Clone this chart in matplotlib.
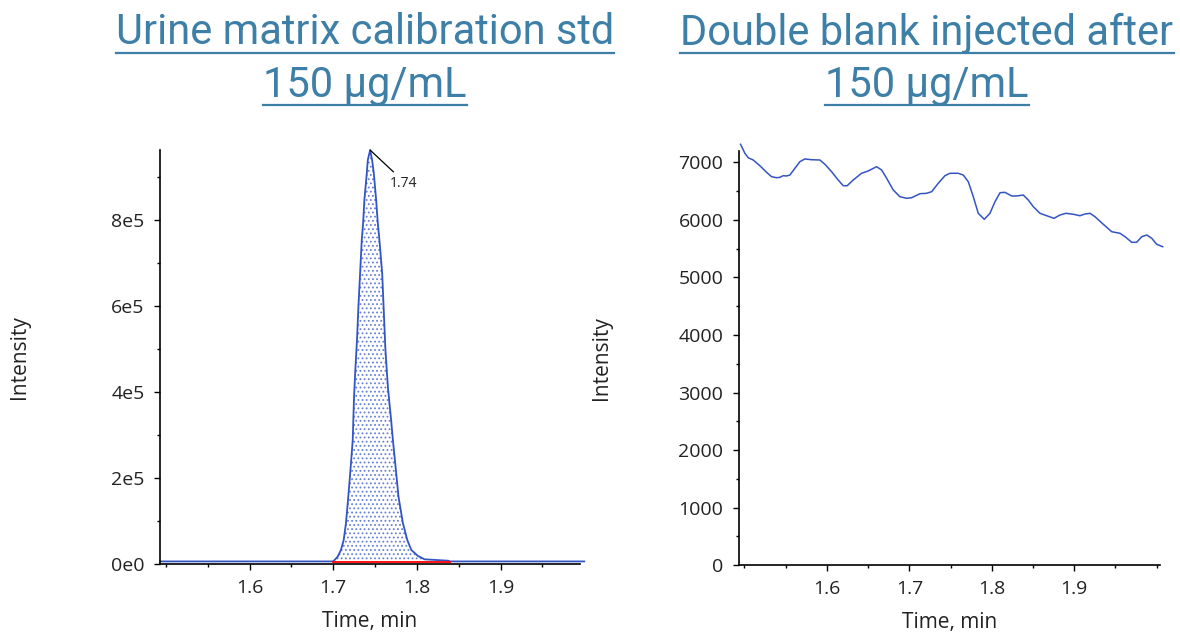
import numpy as np
import matplotlib
matplotlib.use("Agg")
import matplotlib.pyplot as plt
from matplotlib.lines import Line2D
from matplotlib.ticker import MultipleLocator, FuncFormatter

# ---------------------------------------------------------------
# data
# ---------------------------------------------------------------

# calibration std peak (time, intensity)
peak_time = [1.493, 1.600, 1.690, 1.6990, 1.7005, 1.7053, 1.7092, 1.7125,
             1.7152, 1.7180, 1.7212, 1.7233, 1.7248, 1.7264, 1.7285, 1.7300,
             1.7321, 1.7341, 1.7357, 1.7372, 1.7401, 1.7413, 1.7441,
             1.7465, 1.7485, 1.7513, 1.7533, 1.7552, 1.7585, 1.7612, 1.7624,
             1.7653, 1.7672, 1.7692, 1.7713, 1.7741, 1.7780, 1.7833, 1.7885,
             1.7933, 1.8013, 1.8092, 1.8373, 1.8400, 1.9000, 2.000]
peak_int = [6000, 6000, 6000, 6000, 7000, 17000, 32600, 55800,
            94700, 156500, 234200, 288400, 385400, 451200, 524900, 594600,
            676000, 753500, 792300, 846500, 908600, 939500, 962800,
            939500, 908600, 846500, 792300, 753500, 676000, 551900, 497700,
            412300, 373700, 334900, 288400, 234200, 156500, 94700, 55800,
            32600, 18600, 10900, 7700, 6000, 6000, 6000]
peak_label = "1.74"
baseline_start, baseline_end, baseline_level = 1.700, 1.840, 4500

# double blank trace (time, intensity)
blank_time = [1.4953, 1.5005, 1.5045, 1.5106, 1.5187, 1.5268, 1.5329, 1.5390,
              1.5430, 1.5470, 1.5511, 1.5551, 1.5612, 1.5672, 1.5733, 1.5814,
              1.5915, 1.5976, 1.6057, 1.6137, 1.6198, 1.6246, 1.6319, 1.6421,
              1.6501, 1.6603, 1.6664, 1.6725, 1.6805, 1.6886, 1.6967, 1.7028,
              1.7129, 1.7210, 1.7271, 1.7351, 1.7432, 1.7493, 1.7593, 1.7654,
              1.7715, 1.7776, 1.7836, 1.7909, 1.7978, 1.8039, 1.8100, 1.8160,
              1.8242, 1.8302, 1.8382, 1.8443, 1.8504, 1.8585, 1.8666, 1.8755,
              1.8828, 1.8900, 1.8989, 1.9070, 1.9131, 1.9192, 1.9252, 1.9353,
              1.9455, 1.9556, 1.9617, 1.9698, 1.9758, 1.9819, 1.9880, 1.9941,
              2.0001, 2.0074]
blank_int = [7316, 7160, 7083, 7043, 6944, 6829, 6753, 6735,
             6742, 6770, 6765, 6782, 6899, 7013, 7061, 7048,
             7043, 6968, 6840, 6695, 6596, 6596, 6695, 6812,
             6852, 6927, 6869, 6725, 6521, 6405, 6377, 6387,
             6457, 6464, 6492, 6638, 6770, 6812, 6812, 6782,
             6666, 6405, 6116, 6012, 6116, 6318, 6474, 6481,
             6417, 6417, 6434, 6347, 6231, 6116, 6074, 6029,
             6087, 6116, 6099, 6074, 6104, 6116, 6057, 5925,
             5796, 5768, 5709, 5612, 5612, 5709, 5739, 5681,
             5577, 5535]

titles = ["Urine matrix calibration std\n150 µg/mL",
          "Double blank injected after\n150 µg/mL"]
x_ticks = [1.6, 1.7, 1.8, 1.9]

# ---------------------------------------------------------------
# style
# ---------------------------------------------------------------
plt.rcParams['font.family'] = ['Open Sans', 'DejaVu Sans']
plt.rcParams['hatch.linewidth'] = 0.8
line_col = '#3354c4'
title_col = '#3d7fa6'
tick_col = '#222222'

fig = plt.figure(figsize=(11.8, 6.35), dpi=100)
ax1 = fig.add_axes([0.1356, 0.1118, 0.356, 0.652])
ax2 = fig.add_axes([0.626, 0.1102, 0.357, 0.6525])


def style_axis(ax):
    for s in ['top', 'right']:
        ax.spines[s].set_visible(False)
    for s in ['left', 'bottom']:
        ax.spines[s].set_linewidth(1.2)
    ax.xaxis.set_minor_locator(MultipleLocator(0.05))
    ax.set_xticks(x_ticks)
    ax.tick_params(which='both', direction='out', colors='black',
                   labelcolor=tick_col, labelsize=14, pad=7)
    ax.tick_params(which='major', length=4, width=1)
    ax.tick_params(which='minor', length=2.5, width=1)
    ax.set_xlabel("Time, min", fontsize=15, color=tick_col, labelpad=10)
    ax.set_ylabel("Intensity", fontsize=15, color=tick_col)


# ---------------------------------------------------------------
# left: calibration std
# ---------------------------------------------------------------
style_axis(ax1)
t = np.array(peak_time)
y = np.array(peak_int)
mask = (t >= baseline_start) & (t <= baseline_end)
ax1.fill_between(t[mask], baseline_level, y[mask], facecolor='white',
                 edgecolor='#6680d8', hatch='....', linewidth=0)
ax1.plot(t, y, color=line_col, lw=1.3, clip_on=False)
ax1.plot([baseline_start, baseline_end], [baseline_level, baseline_level],
         color='red', lw=1.3)
ip = int(np.argmax(y))
ax1.annotate("", xy=(t[ip], y[ip]), xytext=(1.772, 912000),
             arrowprops=dict(arrowstyle='-', color='black', lw=0.9,
                             shrinkA=0, shrinkB=0))
ax1.text(1.7676, 886000, peak_label, fontsize=10, color=tick_col,
         ha='left', va='center')
ax1.set_xlim(1.493, 1.995)
ax1.set_ylim(0, 963000)
ax1.yaxis.set_major_locator(MultipleLocator(200000))
ax1.yaxis.set_minor_locator(MultipleLocator(100000))
ax1.yaxis.set_major_formatter(FuncFormatter(
    lambda v, p: "0e0" if v == 0 else "%de5" % round(v / 1e5)))
ax1.yaxis.set_label_coords(-0.31, 0.5)

# ---------------------------------------------------------------
# right: double blank
# ---------------------------------------------------------------
style_axis(ax2)
ax2.plot(blank_time, blank_int, color=line_col, lw=1.1, clip_on=False)
ax2.set_xlim(1.493, 2.004)
ax2.set_ylim(0, 7205)
ax2.yaxis.set_major_locator(MultipleLocator(1000))
ax2.yaxis.set_minor_locator(MultipleLocator(500))
ax2.yaxis.set_label_coords(-0.30, 0.5)

# ---------------------------------------------------------------
# titles (underlined)
# ---------------------------------------------------------------
title_font = ['Roboto', 'DejaVu Sans']
title_x = [365 / 1180, 927 / 1180]
title_y = [(635 - 33) / 635, (635 - 85) / 635]
texts = []
for cx, title in zip(title_x, titles):
    for ty, line in zip(title_y, title.split("\n")):
        tx = fig.text(cx, ty, line, ha='center', va='center', fontsize=30,
                      color=title_col, family=title_font)
        texts.append(tx)

fig.canvas.draw()
renderer = fig.canvas.get_renderer()
W, H = fig.bbox.width, fig.bbox.height
for tx in texts:
    bb = tx.get_window_extent(renderer)
    yline = bb.y0 + 1
    fig.add_artist(Line2D([bb.x0 / W, bb.x1 / W], [yline / H, yline / H],
                          color=title_col, lw=1.6, transform=fig.transFigure))

fig.savefig("out.png", dpi=100)
